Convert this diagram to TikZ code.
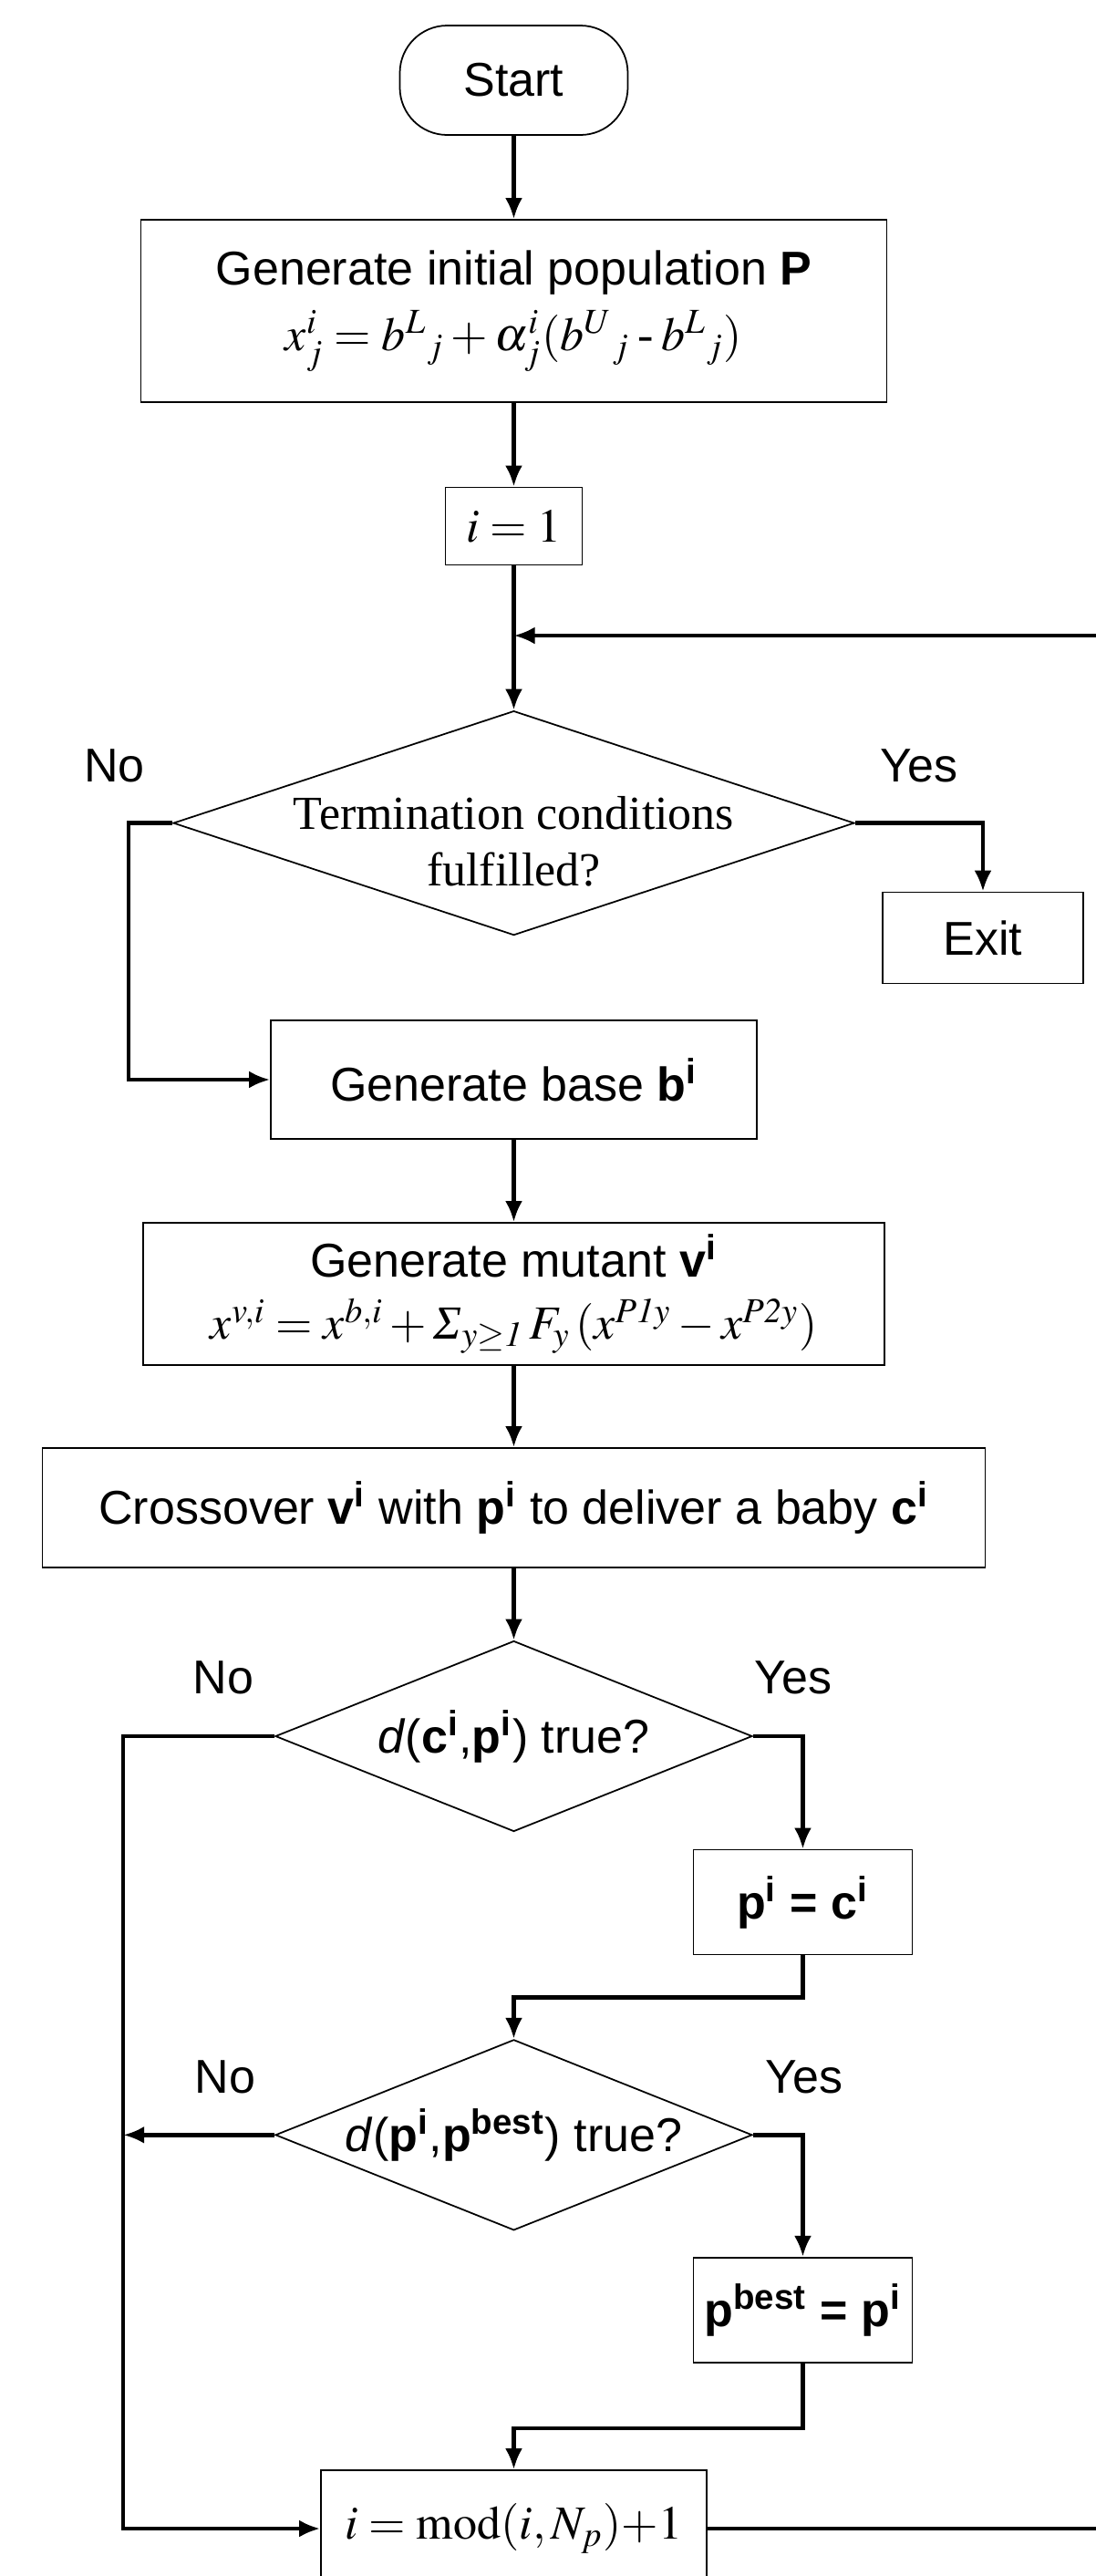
\documentclass[tikz,border=0pt]{standalone}
\usepackage{mathptmx}
\usepackage{fontspec}
\setmainfont{Liberation Serif}
\setsansfont{Liberation Sans}
\usepackage{tikz}
\usetikzlibrary{shapes,arrows,arrows.meta}
\tikzstyle{startstop} = [rectangle, draw, line width=0.5pt, rounded corners=0.52cm, minimum
width=2.5cm, minimum height=1.2cm, text centered]
\tikzstyle{block} = [rectangle, draw, line width=0.5pt, text centered, align=center, inner sep=0pt]
\tikzstyle{decision} = [diamond, draw, line width=0.5pt, aspect=2.5, text centered, inner sep=0pt,
minimum width=5.23cm, minimum height=2.09cm]
\tikzstyle{answer} = [text centered]
\tikzstyle{line} = [draw, -{Latex[length=2.3mm,width=1.9mm]}, line width=1.25pt]

\begin{document}
\begin{tikzpicture}[node distance = 2cm, font=\fontsize{14.8}{17.6}\selectfont\sffamily]
			\useasboundingbox (0,0) rectangle (12.02,-28.25);
			\clip (0,0) rectangle (12.02,-28.25);
			\node [startstop] (start) at (5.635,-0.88) {Start};
			\node [block, below of=start, node distance=2.53cm, minimum width=8.18cm, minimum
			height=2cm] (init) {Generate initial population \textbf{P}\\[3pt]
			\rmfamily $x^i_j = b^L{}_j + \alpha^i_j(b^U{}_j\mbox{\,-\,}b^L{}_j)$};
			\node [block, below of=init, node distance=2.36cm, minimum width=1.5cm, minimum
			height=0.85cm] (ione) {$i = 1$};
			\coordinate [below of=ione, node distance=1.2cm] (join);
			\node [decision, below of=ione, node distance=3.256cm, minimum width=7.47cm, minimum
			height=2.46cm, label={[align=center, font=\fontsize{14.8}{17.6}\selectfont\rmfamily,
			yshift=-0.2cm]center:Termination conditions\\fulfilled?}] (term) {};
			\node [block, right of=term, node distance=5.145cm, yshift=-1.26cm, minimum
			width=2.2cm, minimum height=1cm] (exit) {Exit};
			\node [block, below of=term, node distance=2.814cm, minimum width=5.33cm, minimum
			height=1.3cm] (base) {Generate base \textbf{b\textsuperscript{i}}};
			\node [block, below of=base, node distance=2.35cm, minimum width=8.13cm, minimum
			height=1.56cm] (mutant) {Generate mutant \textbf{v\textsuperscript{i}}\\[2pt]
			$x^{v,i} = x^{b,i} + \mbox{\rmfamily\itshape Σ}_{y\geq \mathit{1}}\,F_y\,(x^{P\mathit{1}y} -
			x^{P\mathit{2}y})$};
			\node [block, below of=mutant, node distance=2.345cm, minimum width=10.34cm, minimum
			height=1.31cm] (cross) {Crossover \textbf{v\textsuperscript{i}} with
			\textbf{p\textsuperscript{i}} to deliver a baby \textbf{c\textsuperscript{i}}};
			\node [decision, below of=cross, node distance=2.505cm] (check)
			{\textit{d}(\textbf{c\textsuperscript{i}},\textbf{p\textsuperscript{i}}) true?};
			\node [block, right of=check, node distance=3.17cm, yshift=-1.82cm, minimum
			width=2.4cm, minimum height=1.15cm] (pc) {\textbf{p\textsuperscript{i} =
			c\textsuperscript{i}}};
			\node [decision, below of=check, node distance=4.373cm] (best)
			{\textit{d}(\textbf{p\textsuperscript{i}},\textbf{p\textsuperscript{best}}) true?};
			\node [block, right of=best, node distance=3.17cm, yshift=-1.92cm, minimum
			width=2.4cm, minimum height=1.15cm] (pbest) {\textbf{p\textsuperscript{best} =
			p\textsuperscript{i}}};
			\node [block, below of=best, node distance=4.317cm, minimum width=4.23cm, minimum
			height=1.28cm] (update) {$i = \mathrm{mod}(i,N_p){+}1$};
			\coordinate [left of=check, node distance=4.283cm] (lbus);
			\coordinate [right of=join, node distance=7cm] (rbus);
			\node [answer] (termno) at ([xshift=-0.635cm, yshift=0.632cm]term.west) {No};
			\node [answer] (termyes) at ([xshift=0.70cm, yshift=0.632cm]term.east) {Yes};
			\node [answer] (checkno) at ([xshift=-0.56cm, yshift=0.645cm]check.west) {No};
			\node [answer] (checkyes) at ([xshift=0.445cm, yshift=0.645cm]check.east) {Yes};
			\node [answer] (bestno) at ([xshift=-0.54cm, yshift=0.63cm]best.west) {No};
			\node [answer] (bestyes) at ([xshift=0.56cm, yshift=0.63cm]best.east) {Yes};
			\path [line] (start) -- (init);
			\path [line] (init) -- (ione);
			\path [line] (ione) -- (term);
			\path [line] (term.east) -| (exit.north);
			\path [line] (term.west) -- ++(-0.482,0) |- (base.west);
			\path [line] (base) -- (mutant);
			\path [line] (mutant) -- (cross);
			\path [line] (cross) -- (check);
			\path [line] (check.east) -| (pc.north);
			\path [line] (check.west) -- (lbus) |- (update.west);
			\path [line] (pc.south) -- ++(0,-0.46) -| (best.north);
			\path [line] (best.west) -- (best.west -| lbus);
			\path [line] (best.east) -| (pbest.north);
			\path [line] (pbest.south) -- ++(0,-0.713) -| (update.north);
			\path [line] (update.east) -- (rbus |- update.east) |- (join);
		\end{tikzpicture}
\end{document}
